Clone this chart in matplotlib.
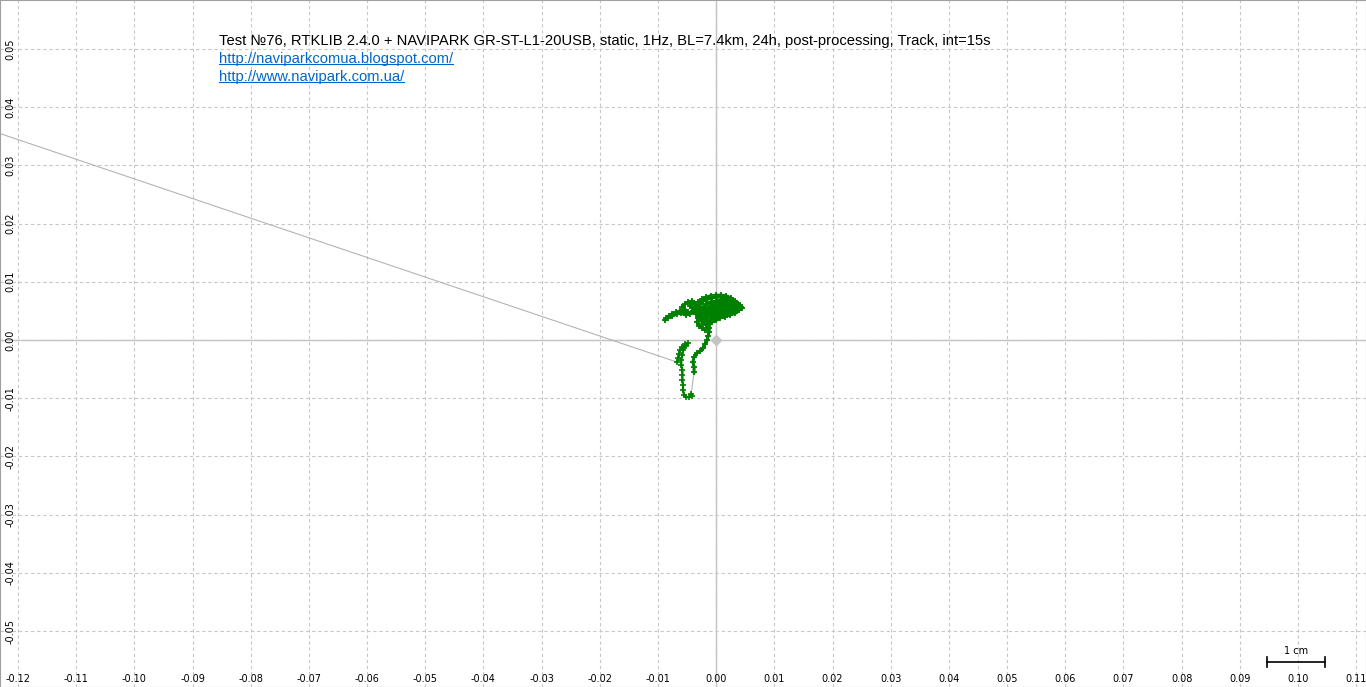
import numpy as np
import matplotlib
matplotlib.use("Agg")
import matplotlib.pyplot as plt
from matplotlib.lines import Line2D
from matplotlib.ticker import FixedLocator, FuncFormatter

# position solution, E/N offsets from reference point in mm
outlier_e = [-200.0]
outlier_n = [61.4]

seg1_e = [-6.7, -6.5, -6.4, -6.2, -5.8, -5.3, -4.8, -5.2, -5.7, -5.8, -6.0, -6.0, -5.8, -5.8,
          -5.8, -5.7, -5.7, -5.5, -5.2, -4.6, -4.1, -4.3]
seg1_n = [-3.8, -3.1, -2.4, -1.7, -1.2, -0.7, -0.5, -1.0, -1.7, -2.6, -3.4, -4.3, -5.2, -6.0,
          -6.9, -7.7, -8.6, -9.5, -9.8, -9.8, -9.6, -9.3]

seg2_e = [-3.8, -3.8, -4.0, -3.8, -3.3, -2.7, -2.2, -1.9, -1.5, -1.4, -1.2, -1.2,
          -1.5, -2.1, -2.4, -2.7, -3.3, -3.6, -3.1, -2.4, -1.7, -0.9, 0.0, 0.9, 1.7, 2.6, 3.3,
          3.8, 4.3, 3.8, 3.1, 2.2, 1.4, 0.5, -0.3, -1.0, -1.5, -1.9, -1.4, -0.7, 0.0, 0.7, 1.4,
          2.1, 2.7, 2.1, 1.0, 0.0, -0.9, -1.7, -2.2, -1.7, -0.9, 0.0, 0.9, 1.7, 2.6, 3.1, 2.4,
          1.5, 0.5, -0.5, -1.4, -2.1, -2.7, -3.4, -4.1, -4.8, -5.3, -5.8, -5.3, -4.8, -5.5,
          -6.2, -6.9, -7.6, -8.1, -8.6, -8.8, -8.2, -7.6, -6.7, -6.0, -5.2, -4.5, -4.0, -3.4,
          -3.1, -3.3, -2.9, -2.4, -1.9, -1.4, -0.7, 0.0, 0.7, 1.5, 2.4, 3.3, 4.0, 4.5, 4.1,
          3.4, 2.7, 1.9, 1.0, 0.2, -0.7, -1.5, -2.2, -2.7, -3.1, -2.6, -2.1, -1.4, -0.5, 0.3,
          1.2, 2.1, 2.9, 3.6, 3.3, 2.6, 1.7, 0.7, -0.5, -0.2, 0.5, 1.4, 1.9, 1.7, 2.4, 3.3,
          2.6, 1.0, 0.3, -0.3, -1.2, -0.7, -2.2, -2.7, -2.2, -3.1, -3.8, -4.5, -4.1]
seg2_n = [-5.5, -4.6, -3.8, -2.9, -2.2, -1.9, -1.4, -0.7, 0.0, 0.7, 1.4, 2.1,
          2.6, 3.1, 3.8, 4.5, 5.2, 5.8, 6.5, 7.0, 7.4, 7.6, 7.7, 7.7, 7.6, 7.2, 6.7,
          6.2, 5.7, 5.2, 4.8, 4.5, 4.1, 4.0, 3.8, 3.4, 3.1, 3.8, 4.5, 5.0, 5.5, 6.0, 6.5,
          6.0, 5.5, 5.0, 4.8, 4.6, 4.3, 4.8, 5.5, 6.2, 6.5, 6.7, 6.9, 6.9, 6.5, 5.8, 5.3,
          5.3, 5.5, 5.7, 5.5, 5.0, 5.7, 6.2, 6.7, 6.5, 6.2, 5.7, 5.2, 4.8, 4.6,
          5.0, 4.8, 4.5, 4.1, 3.8, 3.4, 3.8, 4.1, 4.5, 4.6, 4.3, 4.5, 5.0, 4.5,
          3.8, 3.1, 2.4, 2.1, 1.7, 2.4, 3.1, 3.4, 3.8, 4.0, 4.3, 4.6, 5.2, 5.5, 6.0,
          6.4, 6.9, 7.2, 7.4, 7.4, 7.2, 7.0, 6.7, 6.2, 5.5, 4.8, 4.3, 4.0, 4.3, 4.6,
          5.0, 5.2, 5.3, 5.7, 5.3, 4.8, 4.3, 4.3, 3.6, 6.2, 6.5, 5.8, 4.6, 6.4, 6.0, 5.3,
          6.0, 5.7, 5.3, 5.0, 5.2, 6.0, 4.6, 3.6, 2.7, 4.8, 5.3, 5.8, 6.2]

title = "Test №76, RTKLIB 2.4.0 + NAVIPARK GR-ST-L1-20USB, static, 1Hz, BL=7.4km, 24h, post-processing, Track, int=15s"
links = ["http://naviparkcomua.blogspot.com/", "http://www.navipark.com.ua/"]

x_ticks = np.arange(-12, 12) / 100
y_ticks = np.arange(-5, 6) / 100

to_m = lambda v: np.array(v) / 1000.0

fig = plt.figure(figsize=(13.66, 6.87), dpi=100)
ax = fig.add_axes([0, 0, 1, 1])
ax.set_xlim(-0.1231, 0.1117)
ax.set_ylim(-0.0596, 0.0584)

ax.xaxis.set_major_locator(FixedLocator(x_ticks))
ax.yaxis.set_major_locator(FixedLocator(y_ticks))
fmt = FuncFormatter(lambda v, p: "%.2f" % (0.0 if abs(v) < 1e-9 else v))
ax.xaxis.set_major_formatter(fmt)
ax.yaxis.set_major_formatter(fmt)
ax.tick_params(axis="x", direction="in", length=0, pad=-9, labelsize=7, colors="black")
ax.tick_params(axis="y", direction="in", length=0, pad=-11, labelsize=7, labelrotation=90)
for lab in ax.get_yticklabels():
    lab.set_va("center")

ax.grid(True, color="#c8c8c8", linestyle=(0, (3, 2.5)), linewidth=0.8)
ax.axhline(0, color="#c0c0c0", lw=1, zorder=1)
ax.axvline(0, color="#c0c0c0", lw=1, zorder=1)
for s in ax.spines.values():
    s.set_color("#a0a0a0")

all_e = to_m(outlier_e + seg1_e + seg2_e)
all_n = to_m(outlier_n + seg1_n + seg2_n)
ax.plot(all_e, all_n, color="#b4b4b4", lw=0.8, zorder=2)
ax.plot(to_m(seg1_e), to_m(seg1_n), color="#008000", lw=1.6, marker="+", ms=4.5, mew=1.2, zorder=3)
ax.plot(to_m(seg2_e), to_m(seg2_n), color="#008000", lw=2.2, marker="+", ms=5, mew=1.3, zorder=3)

ax.plot([0], [0], marker="D", ms=5, color="#c4c4c4", zorder=4)

# 1 cm scale bar
sx, sy = 0.0947, -0.0553
ax.plot([sx, sx + 0.01], [sy, sy], color="black", lw=1.2)
ax.plot([sx, sx], [sy - 0.0008, sy + 0.0008], color="black", lw=1.2)
ax.plot([sx + 0.01, sx + 0.01], [sy - 0.0008, sy + 0.0008], color="black", lw=1.2)
ax.text(sx + 0.005, sy + 0.0011, "1 cm", ha="center", va="bottom", fontsize=7)

fig.text(219 / 1366, 1 - 41 / 687, title, fontsize=10.6, family="Liberation Sans", va="center")
link_texts = []
for i, l in enumerate(links):
    t = fig.text(219 / 1366, 1 - (59 + 18 * i) / 687, l, fontsize=10.6, family="Liberation Sans",
                 va="center", color="#0066cc")
    link_texts.append(t)

fig.canvas.draw()
r = fig.canvas.get_renderer()
for t in link_texts:
    bb = t.get_window_extent(r)
    fig.add_artist(Line2D([bb.x0, bb.x1], [bb.y0 + 2, bb.y0 + 2], transform=None,
                          color="#0066cc", lw=0.8))

fig.savefig("out.png", dpi=100)
